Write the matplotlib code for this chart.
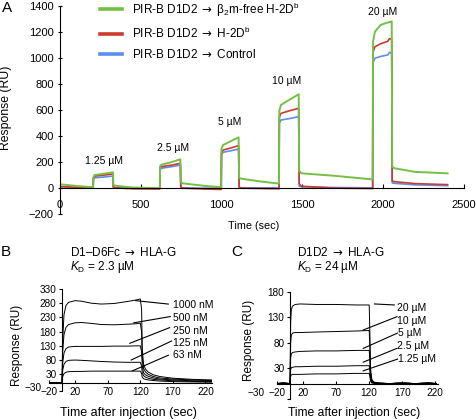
import matplotlib
matplotlib.use("Agg")
import matplotlib.pyplot as plt
from matplotlib.lines import Line2D
from matplotlib.transforms import ScaledTranslation

plt.rcParams['font.family'] = ['Liberation Sans', 'DejaVu Sans']
plt.rcParams['mathtext.fontset'] = 'custom'
plt.rcParams['mathtext.rm'] = 'Liberation Sans'
plt.rcParams['mathtext.it'] = 'Liberation Sans:italic'
plt.rcParams['mathtext.sf'] = 'DejaVu Sans'
plt.rcParams['mathtext.fallback'] = 'stixsans'
plt.rcParams['axes.linewidth'] = 0.8

ARROW = '$\\mathsf{\\rightarrow}$'

# ---- Panel A: sensorgram, PIR-B D1D2 over three surfaces ----
a_time = [0, 100, 205, 207, 215, 270, 328, 330, 340, 450, 618, 620, 628, 690, 745,
          748, 760, 900, 998, 1000, 1010, 1060, 1106, 1109, 1120, 1250, 1356, 1358,
          1368, 1420, 1478, 1481, 1495, 1700, 1936, 1938, 1950, 1985, 2030, 2040,
          2054, 2057, 2070, 2200, 2400]
a_b2m_free = [25, 12, 2, 80, 96, 106, 117, 20, 14, 0, -5, 165, 175, 195, 217,
              40, 32, 12, 2, 300, 327, 358, 386, 75, 68, 45, 30, 590,
              635, 675, 717, 130, 109, 90, 62, 1120, 1198, 1250, 1270, 1272,
              1278, 160, 148, 120, 109]
a_h2db = [8, 2, -3, 75, 88, 95, 104, 5, -2, -10, -12, 150, 160, 172, 186,
          5, -5, -12, -15, 270, 288, 305, 322, 5, -5, -8, -10, 540,
          570, 590, 609, 30, 10, -5, -8, 1040, 1083, 1105, 1125, 1145,
          1140, 50, 45, 30, 22]
a_control = [5, 0, -2, 65, 75, 80, 88, 0, -3, -5, -5, 140, 148, 160, 173,
             0, -3, -5, -5, 255, 271, 283, 296, 0, -2, -3, -3, 495,
             519, 530, 545, 10, 5, 0, -3, 960, 994, 1008, 1020, 1040,
             1032, 35, 32, 20, 14]
a_conc_labels = ['1.25 µM', '2.5 µM', '5 µM', '10 µM', '20 µM']
a_conc_pos = [(272, 206), (697, 301), (1053, 501), (1403, 819), (1998, 1352)]
a_legend = ['PIR-B D1D2 ' + ARROW + ' β$_2$m-free H-2D$^{\\mathrm{b}}$',
            'PIR-B D1D2 ' + ARROW + ' H-2D$^{\\mathrm{b}}$',
            'PIR-B D1D2 ' + ARROW + ' Control']

# ---- Panel B: D1-D6Fc -> HLA-G ----
b_time = [-20, 0, 1, 3, 6, 10, 20, 30, 45, 60, 80, 100, 115, 120, 122, 123, 125,
          128, 132, 140, 150, 170, 200, 230]
b_1000 = [0, 0, 150, 240, 272, 283, 289, 287, 280, 277, 279, 286, 292, 295, 260, 120, 65,
          48, 38, 28, 22, 16, 12, 10]
b_500 = [0, 0, 110, 170, 195, 205, 211, 212, 209, 205, 204, 206, 208, 210, 180, 90, 50,
         38, 30, 22, 17, 13, 10, 8]
b_250 = [0, 0, 70, 105, 120, 126, 128, 128, 128, 128, 129, 129, 130, 130, 110, 60, 35,
         28, 23, 17, 13, 10, 7, 6]
b_125 = [0, 0, 45, 65, 75, 79, 80, 79, 77, 75, 73, 72, 72, 72, 60, 35, 25,
         20, 16, 12, 10, 7, 5, 4]
b_63 = [0, 0, 22, 32, 37, 39, 40, 40, 41, 41, 41, 41, 41, 41, 33, 20, 14,
        12, 10, 8, 6, 4, 3, 2]
b_labels = ['1000 nM', '500 nM', '250 nM', '125 nM', '63 nM']
b_text_pos = [(170, 274), (170, 227), (170, 182), (170, 139), (170, 98)]
b_leaders = [((113, 289), (163, 277)), ((110, 211), (166, 233)), ((104, 139), (165, 194)),
             ((106, 80), (168, 147)), ((108, 42), (163, 97))]

# ---- Panel C: D1D2 -> HLA-G ----
c_time = [-20, -10, 0, 1, 2, 4, 8, 15, 40, 70, 100, 120, 121, 122, 124, 127, 135,
          150, 170, 190, 210, 222]
c_20 = [0, 1, 0, 120, 145, 152, 155, 156, 155, 155, 154, 154, 100, 30, 8, 3, 1,
        0, 1, 0, 1, 0]
c_10 = [0, 1, 0, 80, 95, 99, 100, 100, 101, 102, 103, 104, 70, 20, 5, 2, 1,
        0, 1, 0, 1, 0]
c_5 = [0, 1, 0, 50, 58, 61, 62, 63, 64, 64, 65, 65, 45, 12, 3, 1, 1,
       0, 1, 0, 1, 0]
c_2p5 = [0, 1, 0, 28, 31, 32, 33, 33, 34, 34, 35, 35, 25, 8, 2, 1, 0,
         0, 1, 0, 1, 0]
c_1p25 = [0, 1, 0, 15, 17, 18, 18, 18, 19, 19, 20, 20, 14, 5, 1, 1, 0,
          0, 1, 0, 1, 0]
c_labels = ['20 µM', '10 µM', '5 µM', '2.5 µM', '1.25 µM']
c_text_pos = [(162, 148), (162, 123), (163, 100), (162, 74), (163, 48)]
c_leaders = [((128, 156), (158, 154)), ((111, 105), (162, 131)), ((111, 69), (163, 99)),
             ((111, 42), (162, 69)), ((111, 25), (163, 48))]

green, red, blue = '#74c044', '#cc3b2e', '#5b8ff0'

W, H = 477, 420
fig = plt.figure(figsize=(W / 100, H / 100), dpi=100)

def box(l, t, r, b):
    return [l / W, 1 - b / H, (r - l) / W, (b - t) / H]

def style(ax):
    ax.spines['top'].set_visible(False)
    ax.spines['right'].set_visible(False)
    ax.spines['bottom'].set_position(('data', 0))

# Panel A
ax = fig.add_axes(box(60, 5.5, 463.75, 213.5))
style(ax)
ax.plot(a_time, a_control, color=blue, lw=1.2)
ax.plot(a_time, a_h2db, color=red, lw=1.2)
ax.plot(a_time, a_b2m_free, color=green, lw=1.4)
ax.set_xlim(0, 2500)
ax.set_ylim(-200, 1400)
ax.set_xticks(range(0, 2501, 500))
ax.set_yticks(range(-200, 1401, 200))
ax.tick_params(axis='x', direction='in', length=3, pad=9, labelsize=8)
ax.tick_params(axis='y', direction='inout', length=3, pad=3, labelsize=8)
for lab, (tx, ty) in zip(a_conc_labels, a_conc_pos):
    ax.text(tx, ty, lab, ha='center', va='center', fontsize=7.5)
ax.set_xlabel('Time (sec)', fontsize=7.8)
ax.xaxis.set_label_coords(0.48, -0.036)
ax.xaxis.label.set_va('top')
ax.set_ylabel('Response (RU)', fontsize=8.8)
ax.yaxis.set_label_coords(-0.12, 0.51)
handles = [Line2D([], [], color=c, lw=2.6) for c in (green, red, blue)]
ax.legend(handles, a_legend, loc='upper left', bbox_to_anchor=(100 / W, 0.999),
          bbox_transform=fig.transFigure, frameon=False, fontsize=8.5,
          handlelength=1.9, handletextpad=0.85, labelspacing=0.62,
          borderpad=0, borderaxespad=0)

def kinetics(ax, t, series, labels, text_pos, leaders, xlim, ylim, yticks, shift):
    style(ax)
    for v in series:
        ax.plot(t, v, color='black', lw=0.7)
    for lab, (tx, ty), (p0, p1) in zip(labels, text_pos, leaders):
        ax.plot([p0[0], p1[0]], [p0[1], p1[1]], color='black', lw=0.8)
        ax.text(tx, ty, lab, ha='left', va='center', fontsize=7.5)
    ax.spines['left'].set_position(('data', 0))
    ax.set_xlim(*xlim)
    ax.set_ylim(*ylim)
    ax.set_xticks([-20, 20, 70, 120, 170, 220])
    ax.set_yticks(yticks)
    ax.tick_params(axis='x', direction='in', length=2, pad=3, labelsize=7.2)
    ax.tick_params(axis='y', direction='out', length=2, pad=2, labelsize=7.2)
    # the bottom "-30" label sits further left and a bit higher in the original
    lab = ax.yaxis.get_major_ticks()[0].label1
    lab.set_transform(lab.get_transform() +
                      ScaledTranslation(-shift[0] / 100, shift[1] / 100, fig.dpi_scale_trans))

axb = fig.add_axes(box(49, 289, 212, 391.3))
kinetics(axb, b_time, [b_1000, b_500, b_250, b_125, b_63], b_labels, b_text_pos,
         b_leaders, (-20, 230), (-30, 330), [-30, 30, 80, 130, 180, 230, 280, 330], (15, 4))
axb.set_xlabel('Time after injection (sec)', fontsize=9)
axb.xaxis.set_label_coords(0.485, -0.153)
axb.xaxis.label.set_va('top')
axb.set_ylabel('Response (RU)', fontsize=8.5)
axb.yaxis.set_label_coords(-0.16, 0.45)

axc = fig.add_axes(box(276.8, 291.7, 438.5, 398.9))
kinetics(axc, c_time, [c_20, c_10, c_5, c_2p5, c_1p25], c_labels, c_text_pos,
         c_leaders, (-20, 225), (-30, 180), [-30, 30, 80, 130, 180], (20, 7))
axc.set_xlabel('Time after injection (sec)', fontsize=8.7)
axc.xaxis.set_label_coords(0.477, -0.076)
axc.xaxis.label.set_va('top')
axc.set_ylabel('Response (RU)', fontsize=8.5)
axc.yaxis.set_label_coords(-0.135, 0.55)

# titles and panel letters
fig.text(70 / W, 1 - 252.7 / H, 'D1–D6Fc ' + ARROW + ' HLA-G', fontsize=8.5, va='center')
fig.text(70 / W, 1 - 266.7 / H, '$K_{\\mathrm{D}}$ = 2.3 µM', fontsize=8.5, va='center')
fig.text(297 / W, 1 - 252.7 / H, 'D1D2 ' + ARROW + ' HLA-G', fontsize=8.5, va='center')
fig.text(297 / W, 1 - 266.7 / H, '$K_{\\mathrm{D}}$ = 24 µM', fontsize=8.5, va='center')
for letter, x, y in [('A', 7, 8), ('B', 6, 252), ('C', 237, 252)]:
    fig.text(x / W, 1 - y / H, letter, fontsize=11, ha='center', va='center')

fig.savefig('out.png', dpi=100)
